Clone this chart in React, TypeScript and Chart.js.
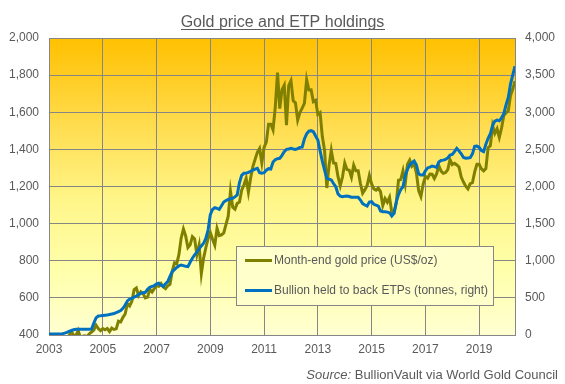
import React, { useEffect, useRef } from "react";
import { Chart, registerables } from "chart.js";

Chart.register(...registerables);

// Month-end values, Jan 2003 .. Jun 2020
const goldPrice: number[] = [
  // 2003
  368, 348, 334, 336, 361, 346, 354, 375, 388, 386, 398, 417,
  // 2004
  399, 396, 424, 388, 393, 396, 391, 407, 416, 426, 453, 435,
  // 2005
  423, 435, 428, 435, 418, 437, 430, 433, 474, 470, 495, 513,
  // 2006
  569, 557, 582, 644, 653, 613, 633, 623, 600, 604, 646, 632,
  // 2007
  650, 665, 662, 677, 659, 650, 665, 673, 743, 789, 783, 834,
  // 2008
  923, 971, 934, 871, 886, 930, 918, 833, 884, 730, 814, 870,
  // 2009
  919, 952, 916, 884, 975, 935, 939, 950, 996, 1040, 1175, 1088,
  // 2010
  1078, 1109, 1116, 1180, 1208, 1244, 1169, 1246, 1307, 1346, 1384, 1405,
  // 2011
  1327, 1411, 1439, 1536, 1536, 1505, 1628, 1813, 1620, 1722, 1746, 1531,
  // 2012
  1744, 1770, 1662, 1651, 1558, 1598, 1622, 1648, 1776, 1720, 1721, 1657,
  // 2013
  1664, 1588, 1598, 1469, 1394, 1192, 1314, 1395, 1327, 1324, 1253, 1204,
  // 2014
  1251, 1326, 1291, 1288, 1250, 1315, 1285, 1285, 1216, 1164, 1182, 1206,
  // 2015
  1260, 1214, 1187, 1180, 1191, 1171, 1098, 1135, 1115, 1142, 1062, 1060,
  // 2016
  1111, 1234, 1237, 1285, 1215, 1320, 1342, 1309, 1322, 1272, 1178, 1146,
  // 2017
  1212, 1255, 1245, 1267, 1266, 1243, 1268, 1312, 1283, 1271, 1275, 1291,
  // 2018
  1345, 1318, 1325, 1316, 1305, 1251, 1224, 1202, 1187, 1215, 1220, 1279,
  // 2019
  1320, 1320, 1295, 1284, 1296, 1409, 1420, 1528, 1486, 1511, 1465, 1515,
  // 2020
  1582, 1597, 1608, 1690, 1725, 1768,
];

const etpTonnes: number[] = [
  // 2003
  10, 12, 13, 13, 14, 15, 15, 18, 25, 35, 50, 60,
  // 2004
  70, 78, 78, 77, 77, 77, 78, 78, 80, 160, 230, 255,
  // 2005
  258, 262, 265, 268, 275, 282, 290, 300, 314, 330, 360, 404,
  // 2006
  460, 485, 494, 510, 525, 545, 562, 568, 575, 615, 642, 655,
  // 2007
  665, 690, 697, 670, 655, 690, 718, 790, 853, 880, 910, 930,
  // 2008
  943, 935, 925, 920, 980, 1033, 1080, 1115, 1160, 1200, 1235, 1300,
  // 2009
  1414, 1620, 1690, 1715, 1705, 1693, 1740, 1790, 1810, 1825, 1835, 1841,
  // 2010
  1860, 1886, 2050, 2150, 2178, 2180, 2190, 2205, 2222, 2235, 2245, 2185,
  // 2011
  2180, 2186, 2220, 2240, 2235, 2330, 2360, 2375, 2380, 2420, 2470, 2500,
  // 2012
  2505, 2514, 2505, 2500, 2510, 2527, 2530, 2640, 2710, 2745, 2752, 2738,
  // 2013
  2680, 2626, 2480, 2340, 2222, 2110, 2100, 2088, 2040, 1997, 1900, 1870,
  // 2014
  1863, 1868, 1872, 1865, 1855, 1855, 1855, 1855, 1818, 1770, 1751, 1737,
  // 2015
  1790, 1795, 1760, 1750, 1737, 1670, 1661, 1661, 1655, 1647, 1603, 1639,
  // 2016
  1790, 1890, 1960, 1997, 2150, 2230, 2290, 2320, 2343, 2290, 2170, 2155,
  // 2017
  2155, 2210, 2250, 2262, 2276, 2268, 2258, 2330, 2350, 2355, 2366, 2385,
  // 2018
  2424, 2432, 2470, 2514, 2480, 2440, 2390, 2382, 2385, 2388, 2440, 2540,
  // 2019
  2545, 2527, 2485, 2470, 2570, 2650, 2710, 2820, 2880, 2895, 2886, 2925,
  // 2020
  2980, 3100, 3200, 3380, 3500, 3620,
];

const xTickYears: number[] = [2003, 2005, 2007, 2009, 2011, 2013, 2015, 2017, 2019];
const leftAxisRange = { min: 400, max: 2000, step: 200 };
const rightAxisRange = { min: 0, max: 4000, step: 500 };

const titleText = "Gold price and ETP holdings";
const goldLabel = "Month-end gold price (US$/oz)";
const etpLabel = "Bullion held to back ETPs (tonnes, right)";
const sourceItalic = "Source:";
const sourceRest = " BullionVault via World Gold Council";

const FONT = "'Liberation Sans', Arial, Helvetica, sans-serif";
const TEXT = "#595959";
const GRID = "#868686";
const GOLD = "#808000";
const BLUE = "#0070C0";

// month index 0 = Jan 2003; the chart's year gridlines fall one month after
const monthPos = (i: number) => 2003 + (i - 1) / 12;
const xMax = monthPos(goldPrice.length - 1);

const fmt = (v: number) => Number(v).toLocaleString("en-US");

const decorPlugin = {
  id: "decor",
  beforeDraw(chart: any) {
    const { ctx, chartArea: a } = chart;
    ctx.save();
    ctx.fillStyle = "#ffffff";
    ctx.fillRect(0, 0, chart.width, chart.height);
    const g = ctx.createLinearGradient(0, a.top, 0, a.bottom);
    g.addColorStop(0, "#FFC000");
    g.addColorStop(0.3, "#FFDD50");
    g.addColorStop(0.55, "#FFF68A");
    g.addColorStop(0.78, "#FFFFAA");
    g.addColorStop(1, "#FFFFD2");
    ctx.fillStyle = g;
    ctx.fillRect(a.left, a.top, a.right - a.left, a.bottom - a.top);
    ctx.restore();
  },
  beforeDatasetsDraw(chart: any) {
    const { ctx, chartArea: a } = chart;
    ctx.save();
    ctx.strokeStyle = GRID;
    ctx.lineWidth = 1;
    ctx.strokeRect(Math.floor(a.left) + 0.5, Math.floor(a.top) + 0.5,
      Math.round(a.right - a.left), Math.round(a.bottom - a.top));
    ctx.restore();
  },
  afterDraw(chart: any) {
    const { ctx } = chart;
    ctx.save();
    // title
    ctx.font = `16px ${FONT}`;
    ctx.fillStyle = TEXT;
    ctx.textAlign = "center";
    ctx.textBaseline = "alphabetic";
    const cx = chart.width / 2;
    ctx.fillText(titleText, cx, 27);
    const tw = ctx.measureText(titleText).width;
    ctx.fillRect(Math.round(cx - tw / 2), 29, Math.round(tw), 1);

    // legend box
    const bx = 236, by = 246, bw = 257, bh = 59;
    ctx.fillStyle = "#FFFFCC";
    ctx.fillRect(bx, by, bw, bh);
    ctx.strokeStyle = GRID;
    ctx.lineWidth = 1;
    ctx.strokeRect(bx + 0.5, by + 0.5, bw, bh);
    const rows = [
      { label: goldLabel, color: GOLD, y: 260.5 },
      { label: etpLabel, color: BLUE, y: 290.5 },
    ];
    ctx.font = `12px ${FONT}`;
    ctx.textAlign = "left";
    ctx.textBaseline = "middle";
    rows.forEach((r) => {
      ctx.strokeStyle = r.color;
      ctx.lineWidth = 3;
      ctx.beginPath();
      ctx.moveTo(245, r.y);
      ctx.lineTo(272, r.y);
      ctx.stroke();
      ctx.fillStyle = TEXT;
      ctx.fillText(r.label, 274, r.y + 0.5);
    });

    // source
    ctx.textBaseline = "alphabetic";
    ctx.font = `13px ${FONT}`;
    const restW = ctx.measureText(sourceRest).width;
    ctx.font = `italic 13px ${FONT}`;
    const itW = ctx.measureText(sourceItalic).width;
    const right = 558;
    const sx = right - restW - itW;
    ctx.fillStyle = TEXT;
    ctx.fillText(sourceItalic, sx, 379);
    ctx.font = `13px ${FONT}`;
    ctx.fillText(sourceRest, sx + itW, 379);
    ctx.restore();
  },
};

export default function App() {
  const ref = useRef<HTMLCanvasElement | null>(null);

  useEffect(() => {
    if (!ref.current) return;
    const chart = new Chart(ref.current, {
      type: "line",
      data: {
        datasets: [
          {
            label: goldLabel,
            data: goldPrice.map((v, i) => ({ x: monthPos(i), y: v })),
            borderColor: GOLD,
            backgroundColor: GOLD,
            borderWidth: 3,
            pointRadius: 0,
            tension: 0,
            yAxisID: "y",
            order: 1,
            clip: 0,
          } as any,
          {
            label: etpLabel,
            data: etpTonnes.map((v, i) => ({ x: monthPos(i), y: v })),
            borderColor: BLUE,
            backgroundColor: BLUE,
            borderWidth: 3,
            pointRadius: 0,
            tension: 0,
            yAxisID: "y1",
            order: 0,
            clip: 0,
          } as any,
        ],
      },
      options: {
        responsive: false,
        devicePixelRatio: 1,
        animation: false,
        events: [],
        layout: { padding: { top: 38, left: 0, right: 0, bottom: 0 } },
        plugins: {
          legend: { display: false },
          title: { display: false },
          tooltip: { enabled: false },
        },
        scales: {
          x: {
            type: "linear",
            min: 2003,
            max: xMax,
            afterBuildTicks: (scale: any) => {
              scale.ticks = xTickYears.map((v) => ({ value: v }));
            },
            afterFit: (scale: any) => {
              scale.height = 49;
            },
            grid: { color: GRID, lineWidth: 1, drawTicks: false },
            border: { display: false },
            ticks: {
              color: TEXT,
              font: { family: FONT, size: 12 },
              padding: 7,
              maxRotation: 0,
              autoSkip: false,
              callback: (v: any) => String(v),
            },
          },
          y: {
            type: "linear",
            position: "left",
            min: leftAxisRange.min,
            max: leftAxisRange.max,
            afterFit: (scale: any) => {
              scale.width = 49;
            },
            grid: { color: GRID, lineWidth: 1, drawTicks: false },
            border: { display: false },
            ticks: {
              stepSize: leftAxisRange.step,
              color: TEXT,
              font: { family: FONT, size: 12 },
              padding: 10,
              callback: (v: any) => fmt(v),
            },
          },
          y1: {
            type: "linear",
            position: "right",
            min: rightAxisRange.min,
            max: rightAxisRange.max,
            afterFit: (scale: any) => {
              scale.width = 50;
            },
            grid: { display: false, drawTicks: false },
            border: { display: false },
            ticks: {
              stepSize: rightAxisRange.step,
              color: TEXT,
              font: { family: FONT, size: 12 },
              padding: 10,
              callback: (v: any) => fmt(v),
            },
          },
        },
      },
      plugins: [decorPlugin],
    });
    return () => chart.destroy();
  }, []);

  return (
    <div style={{ position: "fixed", left: 0, top: 0, width: 565, height: 384, background: "#fff" }}>
      <canvas ref={ref} width={565} height={384} style={{ width: 565, height: 384, display: "block" }} />
    </div>
  );
}
